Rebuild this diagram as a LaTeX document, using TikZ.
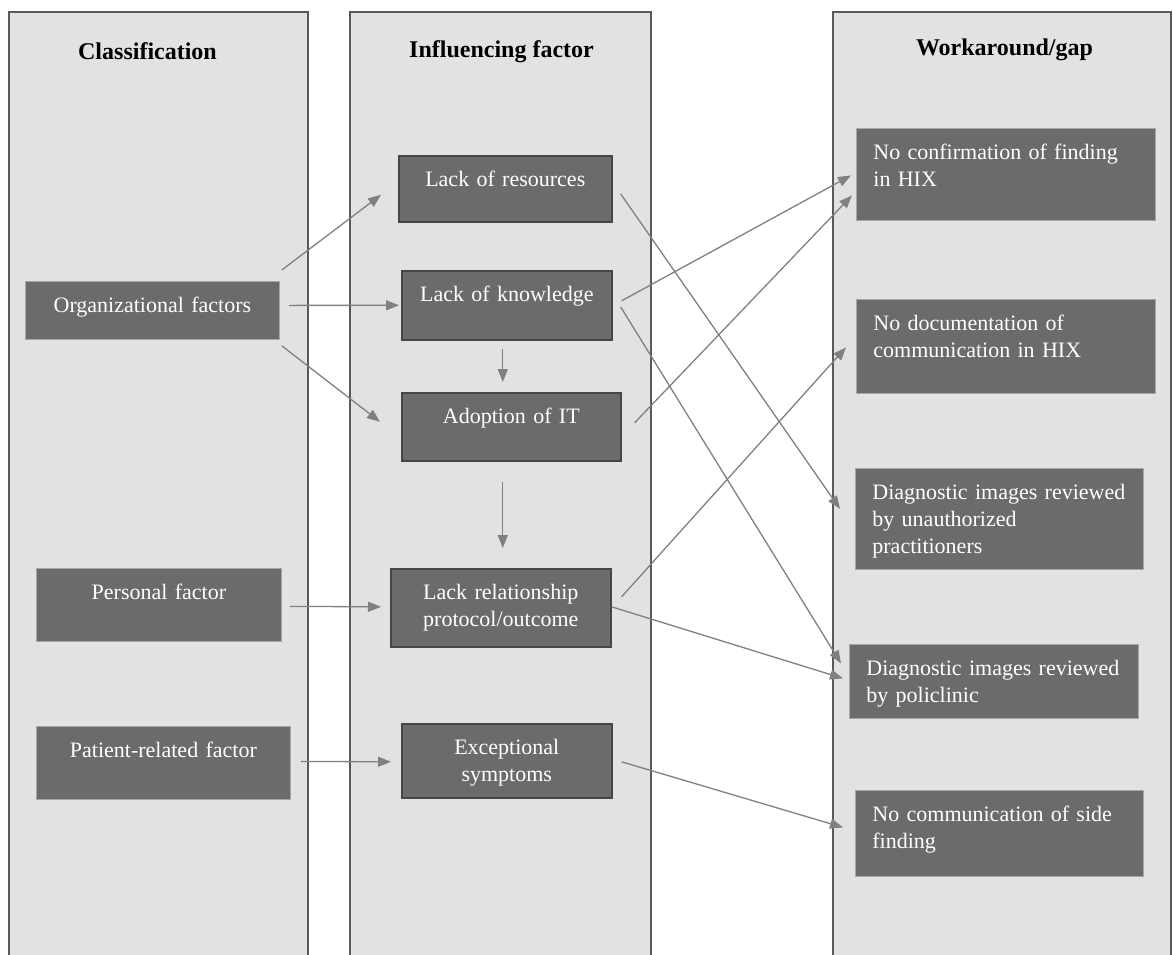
\documentclass[tikz,border=0pt]{standalone}
\usepackage{fontspec}
\setmainfont{Liberation Serif}
\usetikzlibrary{arrows.meta,calc}
\definecolor{panelgray}{HTML}{E2E2E2}
\definecolor{paneledge}{HTML}{595959}
\definecolor{boxgray}{HTML}{6B6B6B}
\definecolor{boxedge}{HTML}{454545}
\definecolor{arrowgray}{HTML}{808080}
\begin{document}
\begin{tikzpicture}[x=1pt, y=-1pt,
    panel/.style={draw=paneledge, fill=panelgray, line width=2pt},
    head/.style={font=\fontsize{24}{28}\selectfont\bfseries, anchor=base},
    fbox/.style={fill=boxgray, text=white, anchor=north west, inner ysep=0pt, text height=31pt, font=\fontsize{22}{27}\selectfont},
    side/.style={fbox, draw=gray!70, line width=0.8pt, align=center, inner xsep=0pt},
    mid/.style={fbox, draw=boxedge, line width=1.6pt, align=center, inner xsep=0pt},
    gap/.style={fbox, draw=gray!70, line width=0.8pt, align=left, inner xsep=17pt},
    arr/.style={draw=arrowgray, line width=1.3pt, -{Triangle[length=13pt,width=10pt]}}]
    \useasboundingbox (0,0) rectangle (1173,954);
    \clip (0,0) rectangle (1173,954);
    \draw [panel] (9,12) rectangle (308,970);
    \draw [panel] (350,12) rectangle (651,970);
    \draw [panel] (833,12) rectangle (1171,970);
    \node [head] (hcls) at (147.5,59) {Classification};
    \node [head] (hinf) at (501.5,57) {Influencing factor};
    \node [head] (hgap) at (1004.5,55) {Workaround/gap};

    \node [side, text width=254pt, text depth=27pt] (org) at (25,281) {Organizational factors};
    \node [side, text width=245pt, text depth=42pt] (pers) at (36,568) {Personal factor};
    \node [side, text width=254pt, text depth=42pt] (pat) at (36,726) {Patient-related factor};

    \node [mid, text width=213pt, text depth=35pt] (res) at (398,155) {Lack of resources};
    \node [mid, text width=210pt, text depth=38pt] (know) at (401,270) {Lack of knowledge};
    \node [mid, text width=219pt, text depth=37pt] (adopt) at (401,392) {Adoption of IT};
    \node [mid, text width=220pt, text depth=47pt] (rel) at (390,568) {Lack relationship\\protocol/outcome};
    \node [mid, text width=210pt, text depth=43pt] (exc) at (401,723) {Exceptional\\symptoms};

    \node [gap, text width=265pt, text depth=61pt] (conf) at (856,128) {No confirmation of finding\\in HIX};
    \node [gap, text width=265pt, text depth=63pt] (doc) at (856,299) {No documentation of\\communication in HIX};
    \node [gap, text width=254pt, text depth=70pt] (unauth) at (855,468) {Diagnostic images reviewed\\by unauthorized\\practitioners};
    \node [gap, text width=255pt, text depth=43pt] (poli) at (849,644) {Diagnostic images reviewed\\by policlinic};
    \node [gap, text width=254pt, text depth=55pt] (sfind) at (855,790) {No communication of side\\finding};

    \draw [arr] ($(org.north east)+(2,-11)$) -- ($(res.west)+(-17,6)$);
    \draw [arr] ($(org.east)+(9,-5)$) -- ($(know.west)+(-2,0)$);
    \draw [arr] ($(org.south east)+(2,6)$) -- ($(adopt.west)+(-21,-5)$);
    \draw [arr] ($(know.south)+(-4,8)$) -- ($(adopt.north)+(-8.5,-10)$);
    \draw [arr] ($(adopt.south)+(-8.5,20)$) -- ($(rel.north)+(2,-20)$);
    \draw [arr] ($(pers.east)+(8,1.5)$) -- ($(rel.west)+(-9,-1)$);
    \draw [arr] ($(pat.east)+(10,-1.5)$) -- ($(exc.west)+(-10,1)$);
    \draw [arr] ($(res.east)+(8,5)$) -- ($(unauth.west)+(-15,-10)$);
    \draw [arr] ($(know.east)+(9,-4.5)$) -- ($(conf.west)+(-5,1)$);
    \draw [arr] ($(know.east)+(8,1.5)$) -- ($(poli.west)+(-8,-18)$);
    \draw [arr] ($(adopt.east)+(13,-4)$) -- ($(conf.west)+(-4,21)$);
    \draw [arr] ($(rel.east)+(10,-11)$) -- ($(doc.west)+(-10,1)$);
    \draw [arr] ($(rel.east)+(0,-1)$) -- ($(poli.west)+(-6,-3)$);
    \draw [arr] ($(exc.east)+(9,1)$) -- ($(sfind.west)+(-12,-6)$);
\end{tikzpicture}
\end{document}
